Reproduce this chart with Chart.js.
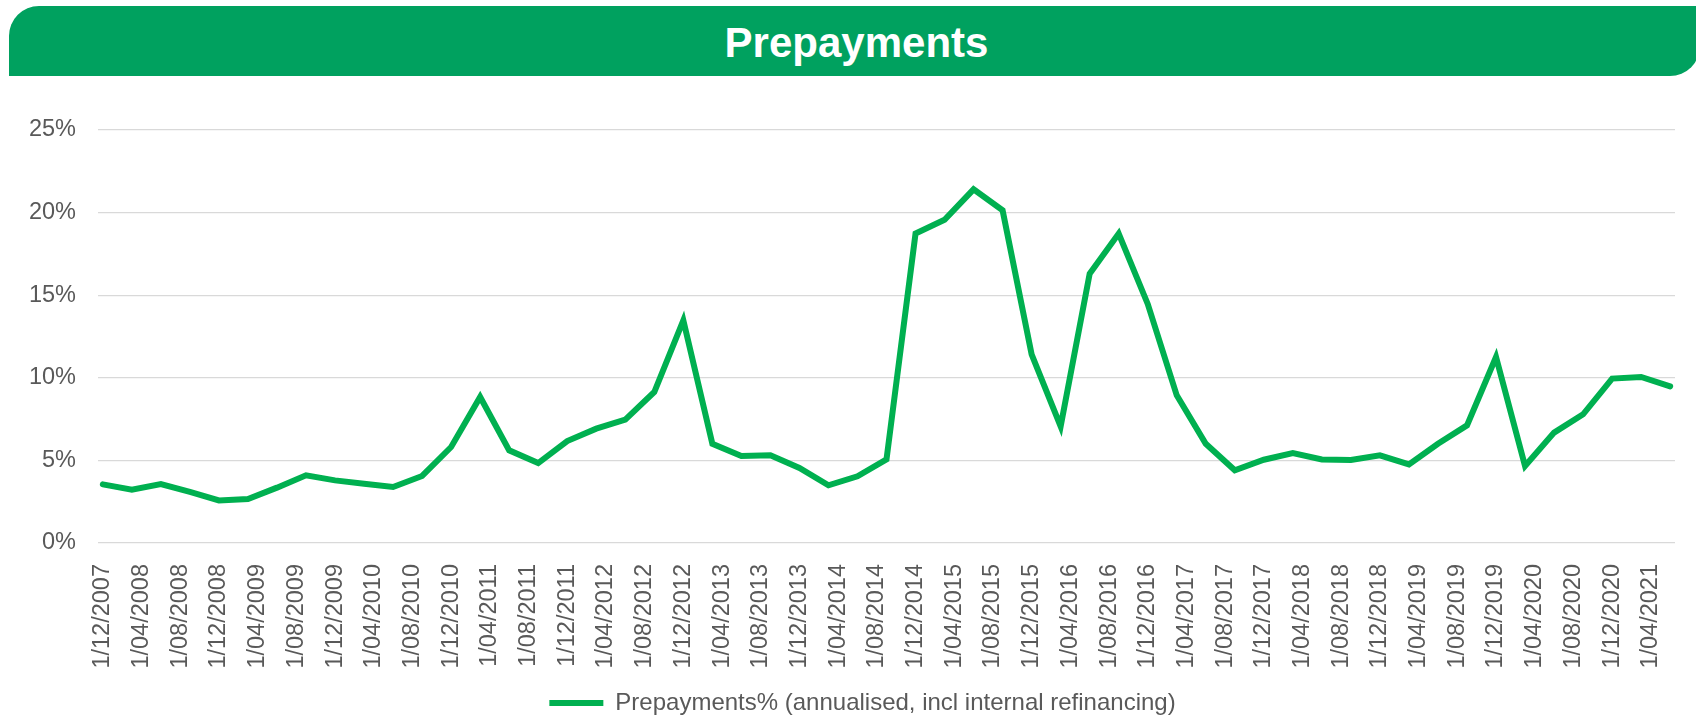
<!DOCTYPE html>
<html>
<head>
<meta charset="utf-8">
<title>Prepayments</title>
<script src="https://cdn.jsdelivr.net/npm/chart.js@4/dist/chart.umd.min.js"></script>
<style>
  body { margin: 0; background: #fff; }
  #wrap { position: relative; width: 1696px; height: 717px; overflow: hidden; }
  #banner {
    position: absolute; left: 9px; top: 6px; width: 1691px; height: 70px;
    box-sizing: border-box; padding: 3px 0 0 4px;
    background: #00a15f; border-radius: 30px 0 30px 0;
    color: #fff; font: bold 42px "Liberation Sans", Arial, sans-serif;
    display: flex; align-items: center; justify-content: center;
  }
  #grafica { position: absolute; left: 0; top: 0; }
</style>
</head>
<body>
<div id="wrap">
  <canvas id="grafica" width="1696" height="717"></canvas>
  <div id="banner">Prepayments</div>
</div>
<script>
/*-----Datos trimestrales-----*/

const fechas = ['1/12/2007',
  '1/03/2008', '1/06/2008', '1/09/2008', '1/12/2008',
  '1/03/2009', '1/06/2009', '1/09/2009', '1/12/2009',
  '1/03/2010', '1/06/2010', '1/09/2010', '1/12/2010',
  '1/03/2011', '1/06/2011', '1/09/2011', '1/12/2011',
  '1/03/2012', '1/06/2012', '1/09/2012', '1/12/2012',
  '1/03/2013', '1/06/2013', '1/09/2013', '1/12/2013',
  '1/03/2014', '1/06/2014', '1/09/2014', '1/12/2014',
  '1/03/2015', '1/06/2015', '1/09/2015', '1/12/2015',
  '1/03/2016', '1/06/2016', '1/09/2016', '1/12/2016',
  '1/03/2017', '1/06/2017', '1/09/2017', '1/12/2017',
  '1/03/2018', '1/06/2018', '1/09/2018', '1/12/2018',
  '1/03/2019', '1/06/2019', '1/09/2019', '1/12/2019',
  '1/03/2020', '1/06/2020', '1/09/2020', '1/12/2020',
  '1/03/2021', '1/06/2021'];

const prepagos = [3.55,
  3.23, 3.57, 3.09, 2.58,
  2.66, 3.35, 4.10, 3.79,
  3.59, 3.39, 4.06, 5.81,
  8.84, 5.61, 4.84, 6.17,
  6.92, 7.47, 9.14, 13.48,
  6.01, 5.27, 5.31, 4.54,
  3.49, 4.04, 5.06, 18.73,
  19.57, 21.41, 20.14, 11.42,
  7.06, 16.30, 18.73, 14.47,
  8.94, 6.01, 4.40, 5.04,
  5.45, 5.06, 5.02, 5.31,
  4.76, 6.01, 7.12, 11.26,
  4.66, 6.68, 7.79, 9.95,
  10.05, 9.48];

// etiquetas del eje x, cada cuatro meses
const etiquetas = ['1/12/2007', '1/04/2008', '1/08/2008', '1/12/2008', '1/04/2009',
  '1/08/2009', '1/12/2009', '1/04/2010', '1/08/2010', '1/12/2010', '1/04/2011',
  '1/08/2011', '1/12/2011', '1/04/2012', '1/08/2012', '1/12/2012', '1/04/2013',
  '1/08/2013', '1/12/2013', '1/04/2014', '1/08/2014', '1/12/2014', '1/04/2015',
  '1/08/2015', '1/12/2015', '1/04/2016', '1/08/2016', '1/12/2016', '1/04/2017',
  '1/08/2017', '1/12/2017', '1/04/2018', '1/08/2018', '1/12/2018', '1/04/2019',
  '1/08/2019', '1/12/2019', '1/04/2020', '1/08/2020', '1/12/2020', '1/04/2021'];

const ticksY = [0, 5, 10, 15, 20, 25];

// meses transcurridos desde diciembre de 2007
function mes(fecha) {
  const p = fecha.split('/');
  return (Number(p[2]) - 2007) * 12 + (Number(p[1]) - 12);
}

const puntos = fechas.map((f, i) => ({ x: mes(f), y: prepagos[i] }));
const posiciones = etiquetas.map(mes);

const gris = '#595959';
const fuente = { family: '"Liberation Sans", Arial, sans-serif', size: 23.5 };

// la leyenda va algo desplazada a la derecha
const moverLeyenda = {
  id: 'moverLeyenda',
  afterLayout(chart) {
    chart.legend.left += 25;
    chart.legend.right += 25;
  }
};

/*-----Gráfica de líneas-----*/

const grafica = document.getElementById('grafica');

new Chart(grafica, {
  type: 'line',
  data: {
    datasets: [{
      label: 'Prepayments% (annualised, incl internal refinancing)',
      data: puntos,
      borderColor: '#00b050',
      backgroundColor: '#00b050',
      borderWidth: 6,
      borderCapStyle: 'round',
      pointRadius: 0,
      tension: 0
    }]
  },
  plugins: [moverLeyenda],
  options: {
    responsive: false,
    animation: false,
    layout: {
      padding: { top: 130, right: 21, bottom: -8, left: 0 }
    },
    scales: {
      x: {
        type: 'linear',
        min: -0.5,
        max: 162.5,
        grid: { display: false },
        border: { display: false },
        afterBuildTicks: eje => {
          eje.ticks = posiciones.map(v => ({ value: v }));
        },
        afterFit: eje => { eje.height = 144; },
        ticks: {
          autoSkip: false,
          minRotation: 90,
          maxRotation: 90,
          padding: 13,
          color: gris,
          font: fuente,
          callback: v => etiquetas[posiciones.indexOf(v)]
        }
      },
      y: {
        min: 0,
        max: 25,
        grid: { color: '#d9d9d9', lineWidth: 1.3, drawTicks: false },
        border: { display: false },
        afterBuildTicks: eje => {
          eje.ticks = ticksY.map(v => ({ value: v }));
        },
        afterFit: eje => { eje.width = 98; },
        ticks: {
          padding: 22,
          color: gris,
          font: fuente,
          callback: v => v + '%'
        }
      }
    },
    plugins: {
      legend: {
        position: 'bottom',
        labels: {
          usePointStyle: true,
          pointStyle: 'line',
          pointStyleWidth: 54,
          padding: 4,
          color: gris,
          font: { family: '"Liberation Sans", Arial, sans-serif', size: 24 }
        }
      },
      tooltip: { enabled: false }
    }
  }
});
</script>
</body>
</html>
